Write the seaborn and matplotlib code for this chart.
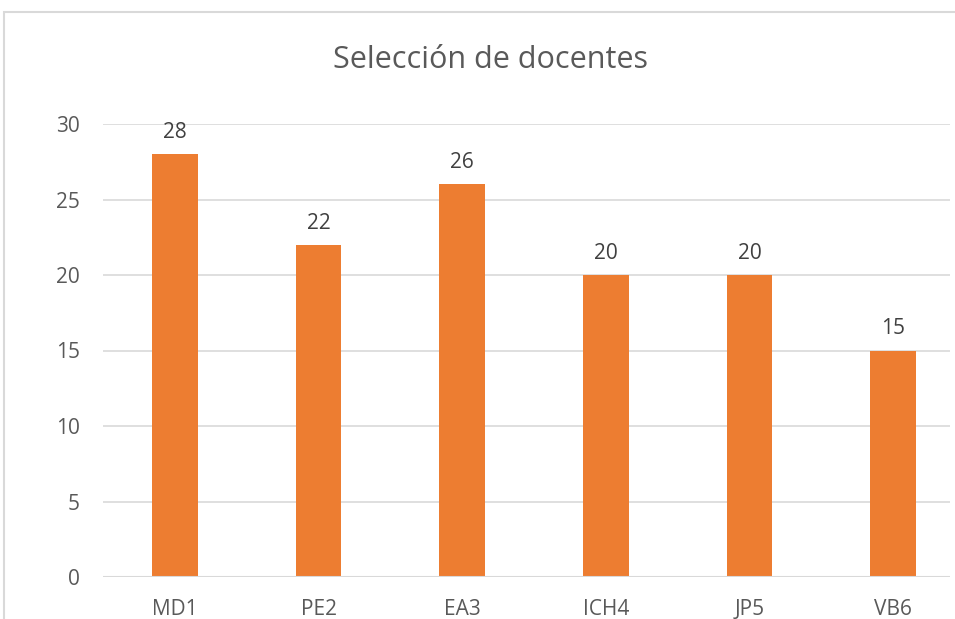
import pandas as pd
import numpy as np
import matplotlib
matplotlib.use('Agg')
import matplotlib.pyplot as plt
import seaborn as sns
from matplotlib.patches import Rectangle

# Datos
docentes = ['MD1', 'PE2', 'EA3', 'ICH4', 'JP5', 'VB6']
valores = [28, 22, 26, 20, 20, 15]
yticks = [0, 5, 10, 15, 20, 25, 30]

df = pd.DataFrame({'docente': docentes, 'valor': valores})

sns.set_style('white')
plt.rcParams['font.family'] = ['Open Sans', 'DejaVu Sans']

naranja = '#ED7D31'
gris = '#595959'

fig = plt.figure(figsize=(9.55, 6.19), dpi=100)
ax = fig.add_axes([103/955, 42/619, (950-103)/955, (577-124)/619])

sns.barplot(data=df, x='docente', y='valor', color=naranja, width=0.32,
            saturation=1, ax=ax, zorder=3, edgecolor=naranja, linewidth=0)

ax.set_ylim(0, 30)
ax.set_xlim(-0.5, 5.5 - 15/143.6)
ax.set_yticks(yticks)
ax.yaxis.grid(True, color='#d9d9d9', linewidth=1.2, zorder=0)
ax.set_axisbelow(True)
for s in ax.spines.values():
    s.set_visible(False)
ax.axhline(0, color='#d9d9d9', linewidth=1.5, zorder=4)
ax.tick_params(axis='both', length=0, labelsize=15, colors=gris)
ax.tick_params(axis='y', pad=16.5)
ax.tick_params(axis='x', pad=16)
ax.set_xlabel('')
ax.set_ylabel('')

for c in ax.containers:
    ax.bar_label(c, padding=8, fontsize=15, color='#404040')

fig.text(490/955, 1 - 60/619, 'Selección de docentes', ha='center', va='center',
         fontsize=22, color=gris)

# marco del gráfico
fig.patches.append(Rectangle((4/955, -0.05), 1.1, 1 - 12/619 + 0.05,
                             transform=fig.transFigure, fill=False,
                             edgecolor='#d9d9d9', linewidth=1.5))

plt.savefig('out.png', dpi=100)
